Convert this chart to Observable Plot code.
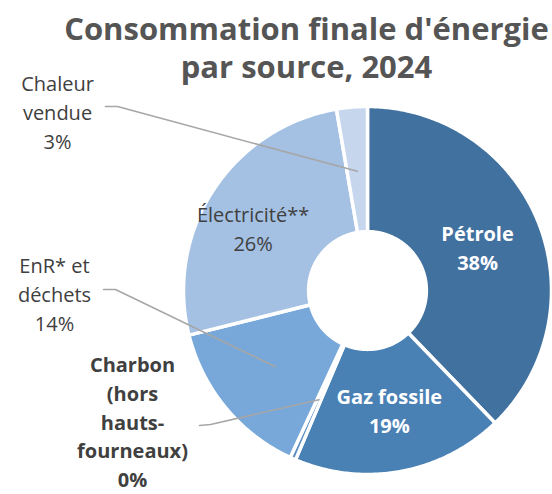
<!DOCTYPE html>
<html><head><meta charset="utf-8">
<script src="https://cdn.jsdelivr.net/npm/d3@7"></script>
<script src="https://cdn.jsdelivr.net/npm/@observablehq/plot@0.6"></script>
<style>body{margin:0;background:#fff;}</style>
</head><body><div id="chart"></div>
<script>
// ---- data ----
const titleText = "Consommation finale d'énergie\npar source, 2024";
const sources = ["Pétrole", "Gaz fossile", "Charbon", "EnR", "Électricité", "Chaleur"];
const shares = [37.8, 18.6, 0.5, 14.2, 26.2, 2.7];
const labelNames = ["Pétrole", "Gaz fossile", "Charbon\n(hors\nhauts-\nfourneaux)", "EnR* et\ndéchets", "Électricité**", "Chaleur\nvendue"];
const percentLabels = ["38%", "19%", "0%", "14%", "26%", "3%"];

// ---- styles / layout ----
const colors = ["#41719f", "#4a81b4", "#5b8fc4", "#78a8d9", "#a4c1e3", "#c5d6ed"];
const W = 552, H = 494, K = 184, CX = 367, CY = 290; // px per unit, centre in px
const R_IN = 0.32, R_OUT = 1;
const toX = px => (px - CX) / K, toY = py => (CY - py) / K;
const font = "'Open Sans', 'Noto Sans', sans-serif";
const layout = {
  "Pétrole":     {inside: true, r: 0.645, color: "white", bold: true, lh: 1.47},
  "Gaz fossile": {inside: true, r: 0.656, color: "white", bold: true, lh: 1.47},
  "Électricité": {inside: true, r: 0.71, color: "#404040", bold: false, dx: -5, dy: 8, lh: 1.47},
  "Chaleur":     {inside: false, at: [57, 110], stub: [[105, 106], [117, 106]], bold: false, lh: 1.47},
  "EnR":         {inside: false, at: [54, 292], stub: [[103, 289], [115, 289]], bold: false, lh: 1.47},
  "Charbon":     {inside: false, at: [132, 420], stub: [[199, 425], [210, 424]], bold: true, lh: 1.43}
};

const table = sources.map((s, i) => ({source: s, value: shares[i], name: labelNames[i], pct: percentLabels[i]}));
const arcs = d3.pie().sort(null).value(d => d.value)(table);

// slice polygons in data units (angle clockwise from 12 o'clock)
const polys = [];
for (const a of arcs) {
  const n = Math.max(2, Math.ceil((a.endAngle - a.startAngle) / 0.01));
  for (let k = 0; k <= n; k++) {
    const t = a.startAngle + (a.endAngle - a.startAngle) * k / n;
    polys.push({source: a.data.source, x: R_OUT * Math.sin(t), y: R_OUT * Math.cos(t)});
  }
  for (let k = n; k >= 0; k--) {
    const t = a.startAngle + (a.endAngle - a.startAngle) * k / n;
    polys.push({source: a.data.source, x: R_IN * Math.sin(t), y: R_IN * Math.cos(t)});
  }
}

const insideLabels = [], outsideLabels = [], leaders = [];
for (const a of arcs) {
  const s = a.data.source, L = layout[s];
  const mid = (a.startAngle + a.endAngle) / 2;
  const text = a.data.name + "\n" + a.data.pct;
  if (L.inside) {
    insideLabels.push({text, x: L.r * Math.sin(mid) + toX(CX + (L.dx || 0)), y: L.r * Math.cos(mid) + toY(CY + (L.dy || 0)), fill: L.color, bold: L.bold});
  } else {
    outsideLabels.push({text, x: toX(L.at[0]), y: toY(L.at[1]), bold: L.bold});
    for (const p of L.stub) leaders.push({source: s, x: toX(p[0]), y: toY(p[1])});
    leaders.push({source: s, x: 0.65 * Math.sin(mid), y: 0.65 * Math.cos(mid)});
  }
}

const textOpts = {x: "x", y: "y", text: "text", fontSize: 20, lineHeight: 1.47, lineAnchor: "middle", textAnchor: "middle"};

const chart = Plot.plot({
  width: W, height: H, margin: 0,
  x: {domain: [toX(0), toX(W)], axis: null},
  y: {domain: [toY(H), toY(0)], axis: null},
  color: {domain: sources, range: colors},
  style: {fontFamily: font, background: "white", overflow: "visible"},
  marks: [
    Plot.line(polys, {x: "x", y: "y", z: "source", fill: "source", stroke: "white", strokeWidth: 3.5, strokeLinejoin: "round", curve: "linear-closed"}),
    Plot.line(leaders, {x: "x", y: "y", z: "source", stroke: "#a6a6a6", strokeWidth: 1.5}),
    Plot.text(insideLabels.filter(d => d.bold), {...textOpts, fill: "fill", fontWeight: 700}),
    Plot.text(insideLabels.filter(d => !d.bold), {...textOpts, fill: "fill"}),
    Plot.text(outsideLabels.filter(d => d.bold), {...textOpts, lineHeight: 1.43, fill: "#404040", fontWeight: 700}),
    Plot.text(outsideLabels.filter(d => !d.bold), {...textOpts, fill: "#404040"}),
    Plot.text([titleText], {frameAnchor: "top", dx: 30, dy: 13, lineAnchor: "top", fontSize: 31, fontWeight: 700, lineHeight: 1.22, fill: "#555555"})
  ]
});
document.getElementById("chart").append(chart);
</script>
</body></html>
